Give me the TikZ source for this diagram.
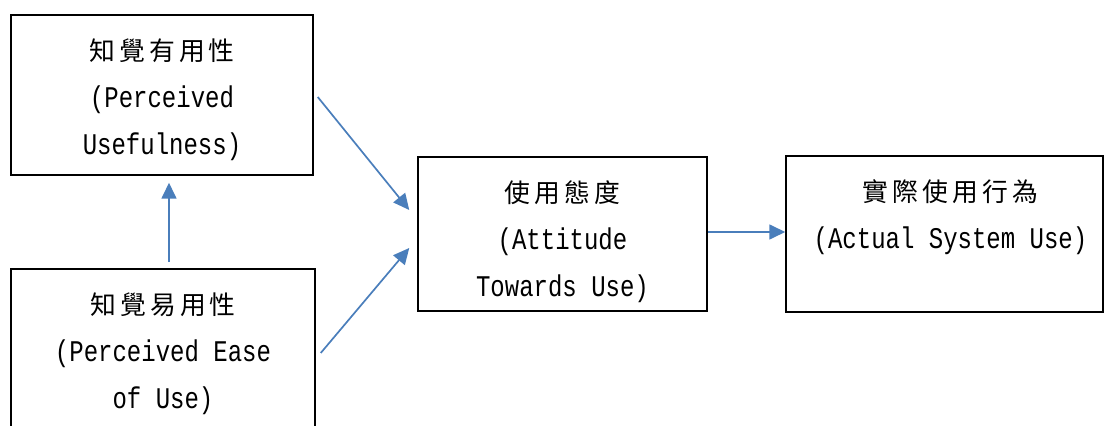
\documentclass[tikz,border=0pt]{standalone}
\usepackage{fontspec}
\setmainfont[FakeStretch=0.8]{Liberation Mono}
\newfontfamily\cjk[Scale=0.86, LetterSpace=16]{Noto Sans CJK TC}
\usetikzlibrary{arrows.meta, positioning}
\definecolor{arr}{RGB}{74, 126, 187}

\begin{document}
\begin{tikzpicture}[x=1pt, y=1pt,
	box/.style={draw, line width=1.5pt, inner sep=0pt},
	lbl/.style={anchor=north, align=center, inner sep=0pt, font=\fontsize{30}{47}\selectfont},
	link/.style={draw=arr, line width=1.7pt, -{Triangle[length=16pt, width=15pt]}}]
	\useasboundingbox (0, 0) rectangle (1104, 426);

	% the four boxes
	\node[box, minimum width=302, minimum height=160] (pu) at (162, 331) {};
	\node[box, minimum width=304, minimum height=160] (peou) at (163, 77) {};
	\node[box, minimum width=289, minimum height=154] (att) at (562.5, 192) {};
	\node[box, minimum width=317, minimum height=156] (use) at (944.5, 192) {};

	% their texts, hung from the top edge
	\node[lbl] (pu-t) at ([yshift=-24]pu.north) {{\cjk 知覺有用性}\\(Perceived\\Usefulness)};
	\node[lbl] (peou-t) at ([yshift=-24]peou.north) {{\cjk 知覺易用性}\\(Perceived Ease\\of Use)};
	\node[lbl] (att-t) at ([yshift=-24]att.north) {{\cjk 使用態度}\\(Attitude\\Towards Use)};
	\node[lbl] (use-t) at ([xshift=6, yshift=-24]use.north) {{\cjk 實際使用行為}\\(Actual System Use)};

	\draw[link] ([xshift=4, yshift=-2]pu.east) -- ([xshift=-8, yshift=24]att.west);
	\draw[link] ([xshift=5, yshift=-4]peou.east) -- ([xshift=-8, yshift=-14]att.west);
	\draw[link] ([xshift=6, yshift=6]peou.north) -- ([xshift=7, yshift=-7]pu.south);
	\draw[link] ([yshift=2]att.east) -- ([yshift=2]use.west);
\end{tikzpicture}
\end{document}
